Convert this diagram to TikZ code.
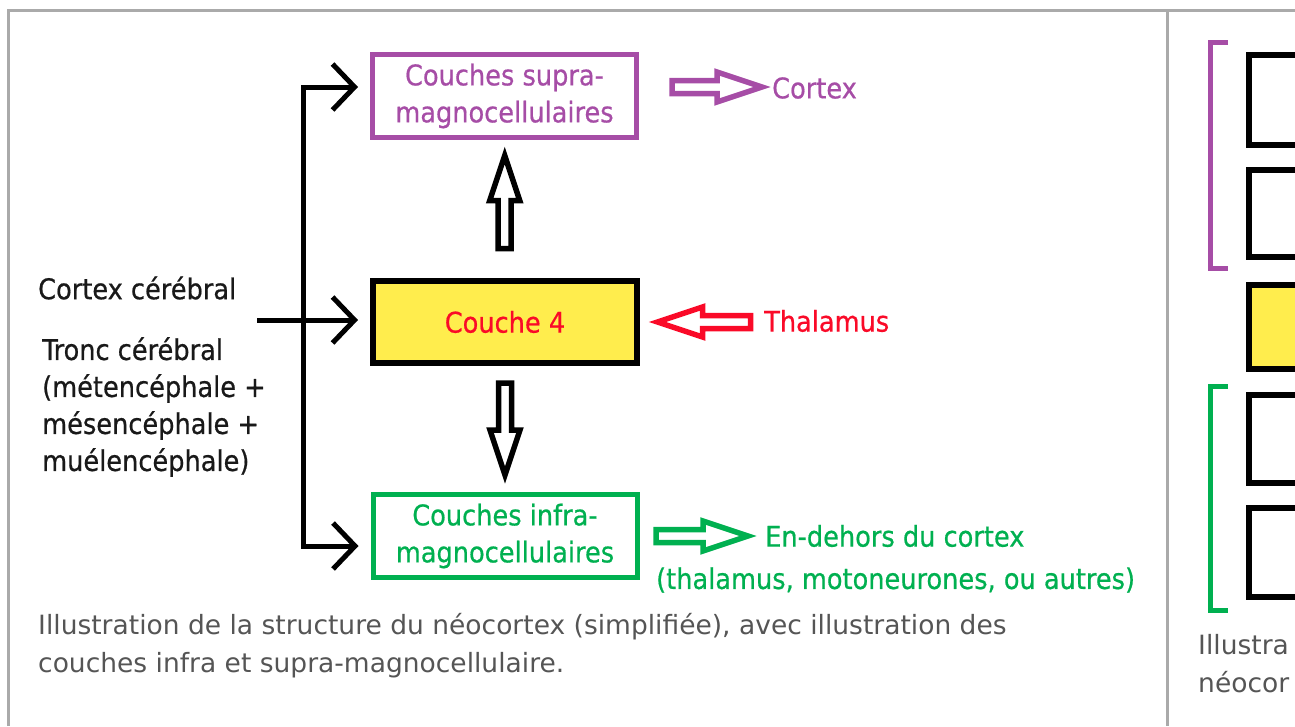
\documentclass[tikz,border=0pt]{standalone}
\usepackage{fontspec}
\setmainfont{DejaVu Sans}
\newfontfamily\diagfont[FakeBold=0.6]{DejaVu Sans Condensed}
\usetikzlibrary{arrows.meta,calc,positioning}
\definecolor{cxviolet}{RGB}{166,77,166}
\definecolor{cxgreen}{RGB}{0,176,80}
\definecolor{cxred}{RGB}{250,10,40}
\definecolor{cxyellow}{RGB}{255,237,77}
\definecolor{cxframe}{RGB}{170,170,170}
\definecolor{cxcaption}{RGB}{85,85,85}
\definecolor{cxtext}{RGB}{25,25,25}
\tikzset{
  lbl/.style={font=\diagfont\fontsize{28.5}{37}\selectfont,inner sep=0pt,align=left},
  layer/.style={lbl,draw,line width=5pt,minimum width=264pt,minimum height=83pt,align=center},
  trunk/.style={line width=5pt,line join=miter},
  barb/.style={-{Straight Barb[length=22pt,width=46pt]},shorten >=12pt},
  barbs/.style={{Straight Barb[length=22pt,width=46pt]}-{Straight Barb[length=22pt,width=46pt]},shorten <=12pt,shorten >=12pt},
  hollow/.style={line width=5.5pt,line join=miter},
  caption/.style={font=\fontsize{26.5}{38}\selectfont,text=cxcaption,align=left,inner sep=0pt}
}
% hollow block arrow: [colour]{centre}{angle}{length}
\newcommand{\hollowarrow}[4][black]{%
  \draw[hollow,draw=#1,fill=white,shift={#2},rotate=#3]
    (-#4/2,-6.5) -- (#4/2-45,-6.5) -- (#4/2-45,-15) -- (#4/2,0)
    -- (#4/2-45,15) -- (#4/2-45,6.5) -- (-#4/2,6.5) -- cycle;}
\begin{document}
\begin{tikzpicture}[x=1pt,y=-1pt]
  \useasboundingbox (0,0) rectangle (1295,726);
  % page frame
  \draw[cxframe,line width=3pt] (8,726) -- (8,10) -- (1295,10);
  \draw[cxframe,line width=3pt] (1167,10) -- (1167,726);

  % layers
  \node[layer,cxviolet] (supra) at (504.5,96) {Couches supra-\\magnocellulaires};
  \node[layer,line width=6pt,fill=cxyellow,text=cxred,minimum height=82pt] (couche4) at (505,322) {Couche 4};
  \node[layer,cxgreen] (infra) at (505,536) {Couches infra-\\magnocellulaires};

  % inputs
  \node[lbl,text=cxtext,anchor=west] (cortexcer) at (38,288) {Cortex cérébral};
  \node[lbl,text=cxtext,anchor=west] (tronc) at (42,407) {Tronc cérébral\\(métencéphale +\\mésencéphale +\\muélencéphale)};
  \coordinate (jtop) at (303,87);
  \coordinate (jbot) at (303,546);
  \coordinate (src) at (257,320);
  \draw[trunk,barbs] (jtop -| supra.west) -- (jtop) -- (jbot) -- (jbot -| infra.west);
  \draw[trunk,barb] (src) -- (src -| couche4.west);

  % outputs
  \node[lbl,text=cxviolet,anchor=west] (cortex) at (772,88) {Cortex};
  \node[lbl,text=cxred,anchor=west] (thalamus) at (764,321) {Thalamus};
  \node[lbl,text=cxgreen,anchor=west] (dehors) at (765,536) {En-dehors du cortex};
  \node[lbl,text=cxgreen,anchor=west] (autres) at (656,580) {(thalamus, motoneurones, ou autres)};
  \hollowarrow[cxviolet]{(717,87)}{0}{90}
  \hollowarrow[cxred]{(704,322)}{180}{93}
  \hollowarrow[cxgreen]{(702,536)}{0}{92}
  \hollowarrow{($(supra.south)!.45!(couche4.north)$)}{90}{93}
  \hollowarrow{($(couche4.south)!.5!(infra.north)$)}{-90}{92}

  \node[caption,anchor=west] (legend) at (38,646) {Illustration de la structure du néocortex (simplifiée), avec illustration des\\couches infra et supra-magnocellulaire.};

  % second figure, cut by the page edge
  \begin{scope}
    \clip (1169,12) rectangle (1295,726);
    \draw[cxviolet,line width=5pt] (1228,42) -- (1210,42) -- (1210,268) -- (1228,268);
    \draw[cxgreen,line width=5pt] (1228,386) -- (1210,386) -- (1210,610) -- (1228,610);
    \draw[line width=6pt] (1249,55) rectangle (1330,145);
    \draw[line width=6pt] (1249,170) rectangle (1330,257);
    \draw[line width=6pt,fill=cxyellow] (1249,285) rectangle (1330,369);
    \draw[line width=6pt] (1249,395) rectangle (1330,483);
    \draw[line width=6pt] (1249,508) rectangle (1330,597);
  \end{scope}
  \node[caption,anchor=west] (legend2) at (1198,664) {Illustra\\néocor};
\end{tikzpicture}
\end{document}
